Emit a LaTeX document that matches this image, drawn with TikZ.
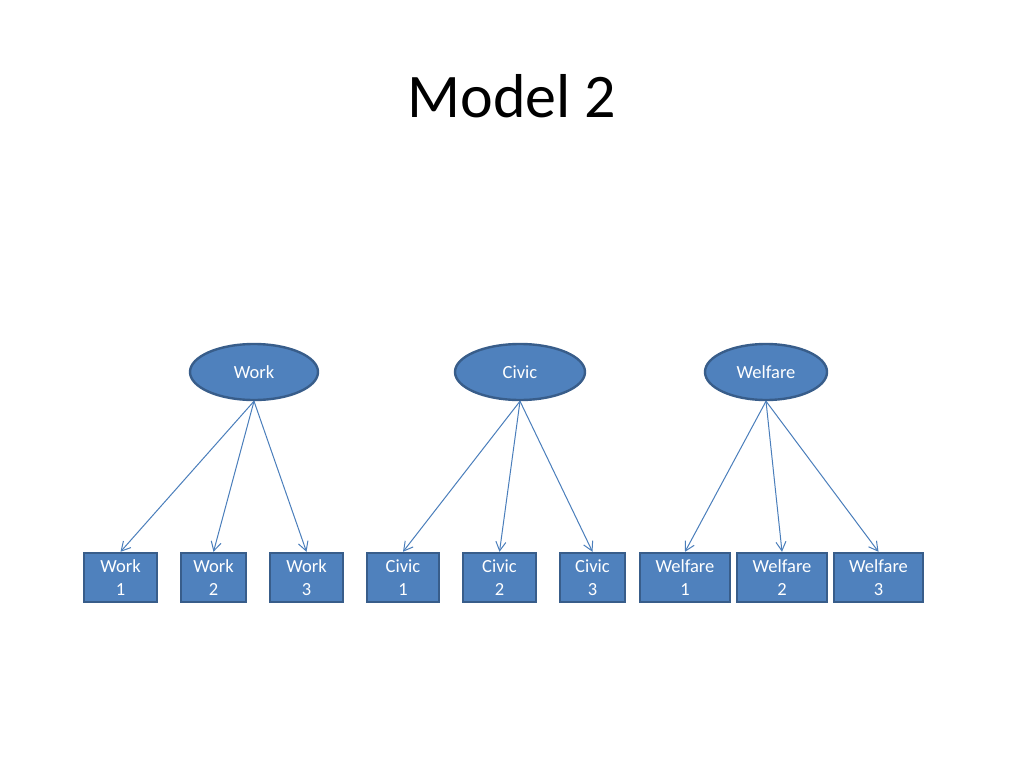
\documentclass[tikz,border=0pt]{standalone}
\usepackage{fontspec}
\setmainfont{Carlito}
\usetikzlibrary{shapes.geometric,arrows.meta}
\definecolor{boxfill}{HTML}{4F81BD}
\definecolor{boxline}{HTML}{385D8A}
\definecolor{arrowc}{HTML}{4A7EBB}
\begin{document}
\begin{tikzpicture}[x=1pt,y=-1pt,
  latent/.style={ellipse,draw=boxline,line width=2.4pt,fill=boxfill,text=white,minimum height=56pt,inner sep=0pt,font=\fontsize{18.5}{22}\selectfont},
  indic/.style={rectangle,draw=boxline,line width=2.4pt,fill=boxfill,text=white,minimum height=49pt,inner sep=0pt,align=center,font=\fontsize{18.5}{23}\selectfont},
  link/.style={draw=arrowc,line width=1pt,-{Straight Barb[length=9pt,width=10pt]}}]
\useasboundingbox[fill=white] (0,0) rectangle (1024,768);
\node[font=\fontsize{62}{70}\selectfont,anchor=base] (title) at (512,117) {Model 2};
\node[latent,minimum width=128pt] (work) at (254,372) {Work};
\node[latent,minimum width=130pt] (civic) at (520,372) {Civic};
\node[latent,minimum width=122pt] (welf) at (766,372) {Welfare};
\node[indic,minimum width=73pt] (w1) at (120.5,577.5) {Work\\1};
\node[indic,minimum width=65pt] (w2) at (213.5,577.5) {Work\\2};
\node[indic,minimum width=73pt] (w3) at (306.5,577.5) {Work\\3};
\node[indic,minimum width=72pt] (c1) at (403,577.5) {Civic\\1};
\node[indic,minimum width=73pt] (c2) at (499.5,577.5) {Civic\\2};
\node[indic,minimum width=65pt] (c3) at (592.5,577.5) {Civic\\3};
\node[indic,minimum width=90pt] (f1) at (685,577.5) {Welfare\\1};
\node[indic,minimum width=90pt] (f2) at (782,577.5) {Welfare\\2};
\node[indic,minimum width=89pt] (f3) at (878.5,577.5) {Welfare\\3};
\foreach \s/\t in {work/w1,work/w2,work/w3,civic/c1,civic/c2,civic/c3,welf/f1,welf/f2,welf/f3}
  \draw[link] (\s.south) -- (\t.north);
\end{tikzpicture}
\end{document}
